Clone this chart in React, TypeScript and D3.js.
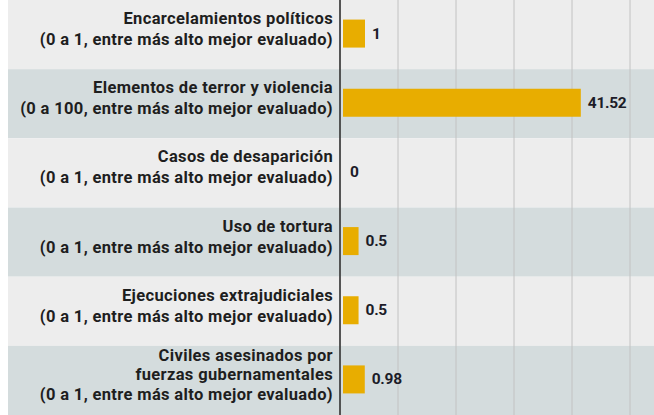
import React from "react";
import * as d3 from "d3";

const categories = [
  "Encarcelamientos políticos",
  "Elementos de terror y violencia",
  "Casos de desaparición",
  "Uso de tortura",
  "Ejecuciones extrajudiciales",
  "Civiles asesinados por fuerzas gubernamentales",
];
const labelLines = [
  ["Encarcelamientos políticos", "(0 a 1, entre más alto mejor evaluado)"],
  ["Elementos de terror y violencia", "(0 a 100, entre más alto mejor evaluado)"],
  ["Casos de desaparición", "(0 a 1, entre más alto mejor evaluado)"],
  ["Uso de tortura", "(0 a 1, entre más alto mejor evaluado)"],
  ["Ejecuciones extrajudiciales", "(0 a 1, entre más alto mejor evaluado)"],
  ["Civiles asesinados por", "fuerzas gubernamentales", "(0 a 1, entre más alto mejor evaluado)"],
];
const values = [1, 41.52, 0, 0.5, 0.5, 0.98];
const valueLabels = ["1", "41.52", "0", "0.5", "0.5", "0.98"];
const scaleKind = ["index", "hundred", "index", "index", "index", "index"];
const gridTicks = [0, 10, 20, 30, 40, 50, 60];

const W = 654;
const H = 415;

export default function App() {
  const axisX = 340;
  const y = d3.scaleBand<string>().domain(categories).range([0, H]).padding(0);
  const xHundred = d3.scaleLinear().domain([0, 60]).range([axisX, axisX + 348]);
  const xIndex = d3.scaleSqrt().domain([0, 1]).range([0, 22]);
  const barStart = axisX + 3;
  const barH = 28;
  const font = "Roboto, 'DejaVu Sans', sans-serif";

  return (
    <svg width={W} height={H} style={{ position: "absolute", left: 0, top: 0 }}>
      <rect x={0} y={0} width={W} height={H} fill="#ffffff" />
      {categories.map((c, i) => (
        <rect
          key={"band" + i}
          x={8}
          y={y(c)!}
          width={W - 8}
          height={y.bandwidth()}
          fill={i % 2 === 0 ? "#ededed" : "#d4dcdd"}
        />
      ))}
      {gridTicks.map((t) => (
        <line
          key={"g" + t}
          x1={xHundred(t)}
          x2={xHundred(t)}
          y1={0}
          y2={H}
          stroke="#c2c2c2"
          strokeWidth={1}
        />
      ))}
      <line x1={axisX} x2={axisX} y1={0} y2={H} stroke="#2a2a2a" strokeWidth={1.5} />
      {categories.map((c, i) => {
        const cy = y(c)! + y.bandwidth() / 2;
        const lines = labelLines[i];
        const lineH = lines.length > 2 ? 19.4 : 21;
        const first = cy - ((lines.length - 1) * lineH) / 2 - 5;
        return (
          <text
            key={"l" + i}
            textAnchor="end"
            fontFamily={font}
            fontWeight={700}
            fontSize={16.5}
            letterSpacing={0.35}
            fill="#1e1e1e"
          >
            {lines.map((ln, j) => (
              <tspan key={j} x={333} y={first + j * lineH + 5}>
                {ln}
              </tspan>
            ))}
          </text>
        );
      })}
      {categories.map((c, i) => {
        const cy = y(c)! + y.bandwidth() / 2 - 1;
        const end =
          scaleKind[i] === "hundred" ? xHundred(values[i]) : barStart + xIndex(values[i]);
        return (
          <g key={"b" + i}>
            {values[i] > 0 && (
              <rect x={barStart} y={cy - barH / 2} width={end - barStart} height={barH} fill="#e8ad00" />
            )}
            <text
              x={Math.max(end, barStart) + 7}
              y={cy}
              dominantBaseline="central"
              fontFamily={font}
              fontWeight={700}
              fontSize={15.5}
              letterSpacing={-0.3}
              fill="#1c1c28"
            >
              {valueLabels[i]}
            </text>
          </g>
        );
      })}
    </svg>
  );
}
